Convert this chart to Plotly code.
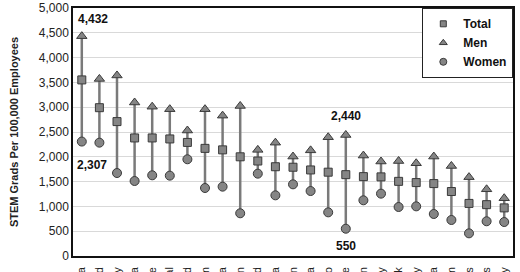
import plotly.graph_objects as go

countries = ["Korea", "Finland", "Germany", "Austria", "France", "Portugal", "Ireland",
             "United Kingdom", "Estonia", "Japan", "Poland", "Slovenia", "Spain", "Czechia",
             "Mexico", "Chile", "Sweden", "Italy", "Denmark", "Norway", "Canada",
             "Belgium", "Netherlands", "United States", "Hungary"]
total = [3550, 2990, 2710, 2380, 2380, 2360, 2290, 2170, 2140, 2000, 1915, 1800, 1790, 1735,
         1690, 1640, 1600, 1595, 1505, 1480, 1460, 1300, 1060, 1035, 970]
men = [4432, 3570, 3640, 3095, 3010, 2960, 2530, 2960, 2830, 3025, 2140, 2285, 2005, 2130,
       2395, 2440, 2025, 1905, 1915, 1870, 2005, 1815, 1590, 1345, 1165]
women = [2307, 2285, 1673, 1512, 1627, 1620, 1950, 1371, 1398, 861, 1660, 1223, 1445, 1310,
         880, 550, 1123, 1257, 988, 1001, 847, 726, 457, 700, 685]
series_names = ["Total", "Men", "Women"]

FONT = "Liberation Sans, Arial, sans-serif"
fill = "#858585"
edge = "#3a3a3a"

# connector lines from women to men
lx, ly = [], []
for c, m, w in zip(countries, men, women):
    lx += [c, c, None]
    ly += [w, m, None]

fig = go.Figure()
fig.add_trace(go.Scatter(x=lx, y=ly, mode="lines", line=dict(color="#7a7a7a", width=2.5),
                         showlegend=False, hoverinfo="skip"))
symbols = ["square", "triangle-up", "circle"]
sizes = [8, 9, 9]
legend_sizes = [6, 7, 7]
for name, vals, sym, sz in zip(series_names, [total, men, women], symbols, sizes):
    fig.add_trace(go.Scatter(x=countries, y=vals, mode="markers", name=name, showlegend=False,
                             marker=dict(symbol=sym, size=sz, color=fill,
                                         line=dict(color=edge, width=1))))
for name, sym, lsz in zip(series_names, symbols, legend_sizes):
    fig.add_trace(go.Scatter(x=[None], y=[None], mode="markers", name=name,
                             marker=dict(symbol=sym, size=lsz, color=fill,
                                         line=dict(color=edge, width=1))))

ann = [(0, men[0], 11, 17), (0, women[0], 10, -23), (15, men[15], 0, 19), (15, women[15], 0, -17)]
for i, v, xs, ys in ann:
    fig.add_annotation(x=countries[i], y=v, text=f"<b>{v:,}</b>", showarrow=False,
                       xshift=xs, yshift=ys, font=dict(family=FONT, size=12, color="#111"))

fig.update_layout(
    width=520, height=272,
    margin=dict(l=73, r=7, t=8, b=16, autoexpand=False),
    paper_bgcolor="white", plot_bgcolor="white",
    font=dict(family=FONT, size=12, color="#222"),
    legend=dict(x=1, y=1, xanchor="right", yanchor="top", bgcolor="white",
                bordercolor="#222", borderwidth=1.3,
                font=dict(family=FONT, size=12, color="#111", weight="bold"),
                itemwidth=30, tracegroupgap=9, entrywidth=50),
    showlegend=True,
)
fig.update_xaxes(showgrid=False, showline=True, mirror=True, linecolor="#111", linewidth=1.5,
                 tickangle=-90, tickfont=dict(size=11), ticks="", automargin=False,
                 ticklabelstandoff=5, range=[-0.5, len(countries) - 0.5])
fig.update_yaxes(range=[0, 5000], dtick=500, tickformat=",", showgrid=True,
                 gridcolor="#d9d9d9", gridwidth=1, showline=True, mirror=True,
                 linecolor="#111", linewidth=1.5, zeroline=False, automargin=False,
                 ticks="", tickfont=dict(size=12),
                 title=dict(text="<b>STEM Grads Per 100,000 Employees</b>",
                            font=dict(size=11), standoff=18))

fig.write_html("out.html")
